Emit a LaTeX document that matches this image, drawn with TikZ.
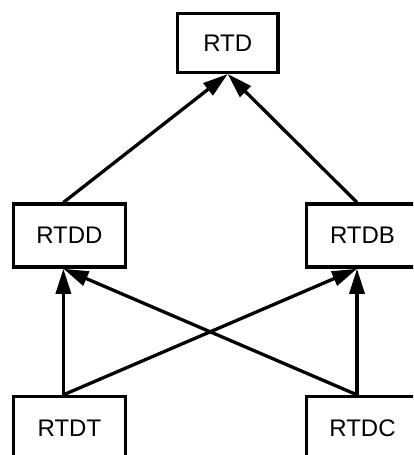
\documentclass[tikz,border=0pt]{standalone}
\usepackage{fontspec}
\setmainfont{Liberation Sans}
\usetikzlibrary{arrows.meta}
\begin{document}
\begin{tikzpicture}[x=1pt,y=-1pt,
  box/.style={draw, line width=3.3pt, minimum width=112pt, minimum height=63pt, inner sep=0pt, font=\fontsize{24}{28}\selectfont},
  conn/.style={line width=3.3pt, -{Triangle[length=25pt,width=15pt]}}]
\useasboundingbox (0,0) rectangle (413,455);
\clip (0,0) rectangle (413,455);
\node[box, minimum width=100.5pt, minimum height=58.7pt] (rtd) at (227.7,43) {RTD};
\node[box] (rtdd) at (69.4,235.6) {RTDD};
\node[box] (rtdb) at (362.5,235.6) {RTDB};
\node[box] (rtdt) at (69.4,428) {RTDT};
\node[box] (rtdc) at (362.5,428) {RTDC};
\draw[conn] ([xshift=-6pt]rtdd.north) -- (rtd.south);
\draw[conn] ([xshift=-5.5pt]rtdb.north) -- (rtd.south);
\draw[conn] ([xshift=-6pt]rtdt.north) -- ([xshift=-6pt]rtdd.south);
\draw[conn] ([xshift=-6pt]rtdt.north) -- ([xshift=-5.5pt]rtdb.south);
\draw[conn] ([xshift=-5.5pt]rtdc.north) -- ([xshift=-6pt]rtdd.south);
\draw[conn] ([xshift=-5.5pt]rtdc.north) -- ([xshift=-5.5pt]rtdb.south);
\end{tikzpicture}
\end{document}
